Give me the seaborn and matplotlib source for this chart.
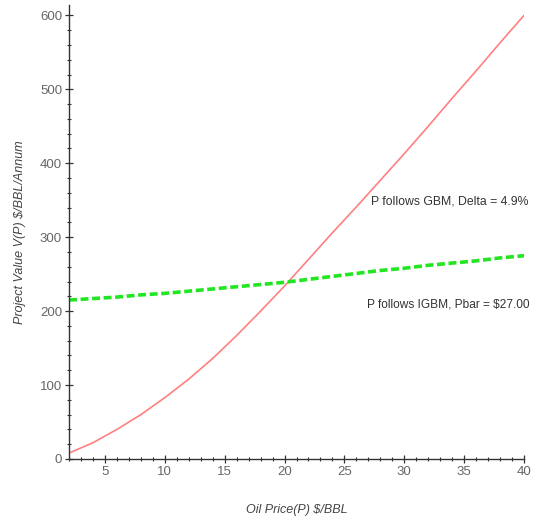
import matplotlib
matplotlib.use("Agg")
import matplotlib.pyplot as plt
import pandas as pd
import seaborn as sns
from matplotlib.ticker import MultipleLocator

# Oil price grid and project values
oil_price = [2, 4, 6, 8, 10, 12, 14, 16, 18, 20,
             22, 24, 26, 28, 30, 32, 34, 36, 38, 40]
value_gbm = [8, 22, 40, 60, 83, 108, 136, 167, 200, 234,
             270, 306, 341, 377, 413, 450, 488, 525, 563, 600]
value_igbm = [215, 217, 219, 222, 224, 227, 230, 233, 236, 239,
              243, 247, 251, 255, 258, 262, 265, 268, 272, 275]

label_gbm = "P follows GBM, Delta = 4.9%"
label_igbm = "P follows IGBM, Pbar = $27.00"

df = pd.DataFrame({"price": oil_price, "gbm": value_gbm, "igbm": value_igbm})

sns.set_style("ticks")
plt.rcParams["font.family"] = ["Liberation Sans", "DejaVu Sans"]

fig = plt.figure(figsize=(5.37, 5.17), dpi=100)
ax = fig.add_axes([0.1285, 0.1122, 0.8473, 0.878])

sns.lineplot(data=df, x="price", y="gbm", ax=ax, color="#ff8080", linewidth=1.2)
sns.lineplot(data=df, x="price", y="igbm", ax=ax, color="#22e622", linewidth=2.6,
             linestyle=(0, (2.2, 1.0)))

ax.text(27.25, 348, label_gbm, fontsize=8.8, color="#333333", va="center", ha="left")
ax.text(26.9, 209, label_igbm, fontsize=8.6, color="#333333", va="center", ha="left")

ax.set_xlim(2, 40)
ax.set_ylim(0, 614)
ax.xaxis.set_major_locator(MultipleLocator(5))
ax.xaxis.set_minor_locator(MultipleLocator(1))
ax.yaxis.set_major_locator(MultipleLocator(100))
ax.yaxis.set_minor_locator(MultipleLocator(20))
ax.tick_params(which="major", direction="inout", length=6, width=0.9,
               color="#333333", labelcolor="#666666", labelsize=9.5, pad=2)
ax.tick_params(which="minor", direction="inout", length=3, width=0.8, color="#333333")

for side in ["top", "right"]:
    ax.spines[side].set_visible(False)
for side in ["left", "bottom"]:
    ax.spines[side].set_color("#333333")
    ax.spines[side].set_linewidth(1.0)

ax.set_xlabel("Oil Price(P) $/BBL", fontstyle="italic", fontsize=9, color="#444444",
              labelpad=19)
ax.set_ylabel("Project Value V(P) $/BBL/Annum", fontstyle="italic", fontsize=9,
              color="#444444", labelpad=10)

fig.savefig("out.png", dpi=100)
